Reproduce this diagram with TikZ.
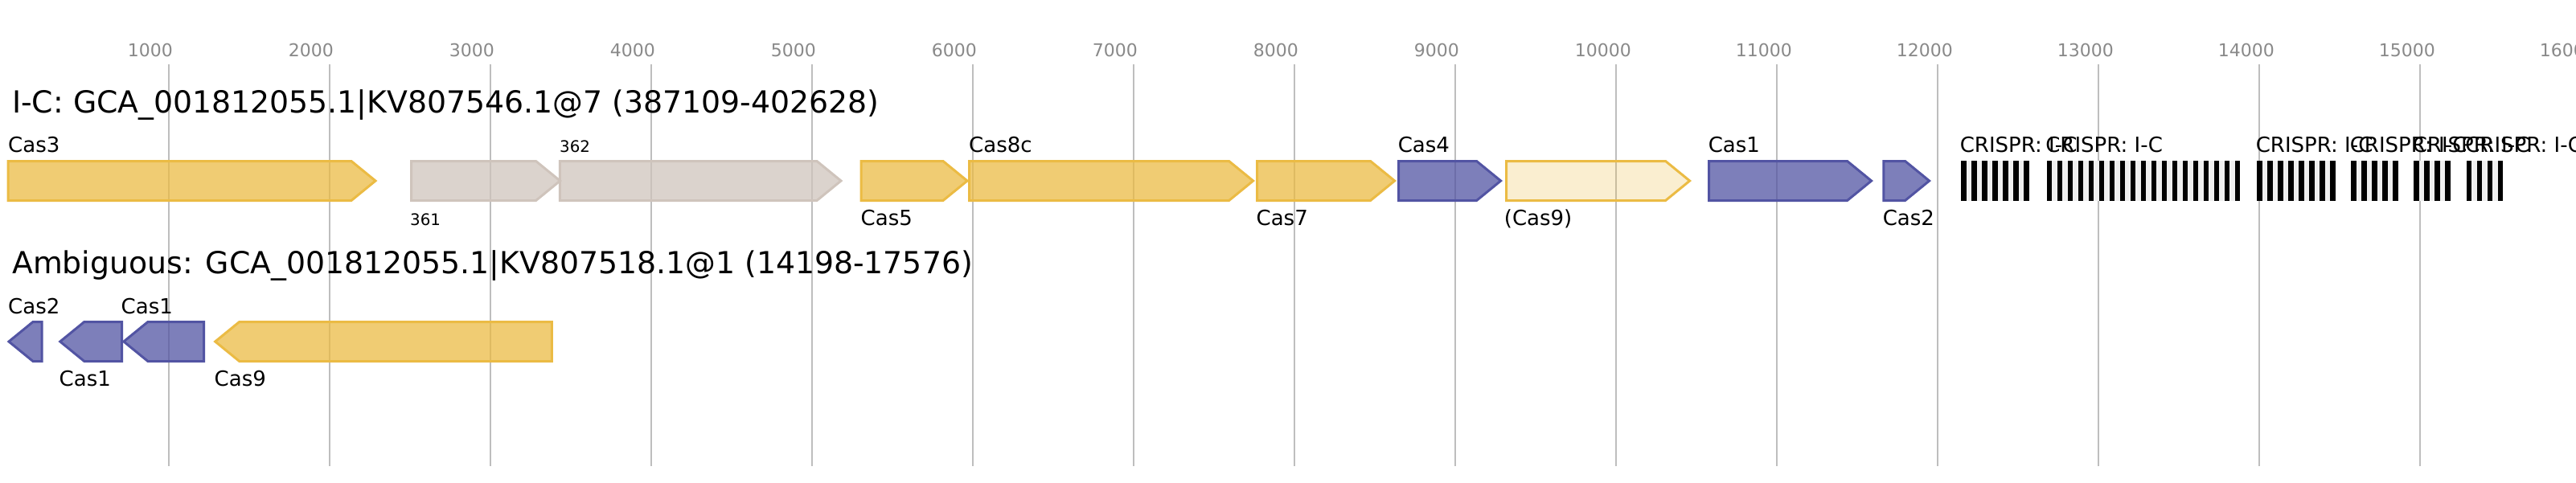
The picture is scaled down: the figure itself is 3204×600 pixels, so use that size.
\documentclass[tikz,border=0pt]{standalone}
\usepackage{fontspec}
\setmainfont{DejaVu Sans}

\definecolor{coreorange}{HTML}{EBBB44}
\definecolor{adaptblue}{HTML}{5254A3}
\definecolor{otherbeige}{HTML}{CFC4BC}
\definecolor{gridgray}{HTML}{BEBEBE}
\definecolor{ticktext}{HTML}{898989}
\definecolor{spacergray}{HTML}{EFEFEF}

\newcommand{\headfont}{\fontsize{37.8}{44}\selectfont}
\newcommand{\genefont}{\fontsize{26}{30}\selectfont}
\newcommand{\idfont}{\fontsize{19.8}{23}\selectfont}
\newcommand{\axisfont}{\fontsize{22}{26}\selectfont}

% gene arrow: style, left end, right end, middle of the row
\newcommand{\fwdgene}[4]{\draw[#1] (#2,#4-24.5) -- (#3-30,#4-24.5) -- (#3,#4) -- (#3-30,#4+24.5) -- (#2,#4+24.5) -- cycle;}
\newcommand{\revgene}[4]{\draw[#1] (#3,#4-24.5) -- (#2+30,#4-24.5) -- (#2,#4) -- (#2+30,#4+24.5) -- (#3,#4+24.5) -- cycle;}

\begin{document}
\begin{tikzpicture}
[x=1pt,y=-1pt,line join=miter,
gridline/.style={draw=gridgray,line width=1.6pt},
axis label/.style={font=\axisfont,text=ticktext,inner sep=0pt,anchor=base west},
locus title/.style={font=\headfont,inner sep=0pt,anchor=base west},
gene label/.style={font=\genefont,inner sep=0pt,anchor=base west},
id label/.style={font=\idfont,inner sep=0pt,anchor=base west},
core/.style={draw=coreorange,fill=coreorange,fill opacity=0.75,line width=3pt},
weak core/.style={core,fill opacity=0.25},
adapt/.style={draw=adaptblue,fill=adaptblue,fill opacity=0.75,line width=3pt},
other/.style={draw=otherbeige,fill=otherbeige,fill opacity=0.75,line width=3pt},
spacer/.style={fill=spacergray},
crispr repeat/.style={fill=black}]
\useasboundingbox (0,0) rectangle (3204,600);
\foreach \k in {1,...,15}
  \draw[gridline] (9.7+200*\k,80) -- (9.7+200*\k,580);
\foreach \k in {1,...,16}
  \node[axis label] (tick\k) at (-41.3+200*\k,70) {\k000};
\node[locus title] (locusA) at (15,140) {I-C: GCA\_001812055.1|KV807546.1@7 (387109-402628)};
\node[locus title] (locusB) at (15,340) {Ambiguous: GCA\_001812055.1|KV807518.1@1 (14198-17576)};
\fwdgene{core}{10}{467}{225}
\fwdgene{other}{511.7}{696.6}{225}
\fwdgene{other}{696.4}{1046}{225}
\fwdgene{core}{1071}{1203}{225}
\fwdgene{core}{1205.5}{1558.6}{225}
\fwdgene{core}{1563.5}{1734.6}{225}
\fwdgene{adapt}{1739.5}{1866.6}{225}
\fwdgene{weak core}{1873.5}{2101.6}{225}
\fwdgene{adapt}{2125.5}{2327.6}{225}
\fwdgene{adapt}{2342.8}{2399.6}{225}
\revgene{adapt}{11}{52}{425}
\revgene{adapt}{74.8}{151.5}{425}
\revgene{adapt}{153.9}{253.5}{425}
\revgene{core}{267.7}{686.3}{425}
\node[gene label] (cas3) at (10,189) {Cas3};
\node[id label] (g361) at (510,280) {361};
\node[id label] (g362) at (696,189) {362};
\node[gene label] (cas5) at (1070.5,280) {Cas5};
\node[gene label] (cas8c) at (1205,189) {Cas8c};
\node[gene label] (cas7) at (1562.4,280) {Cas7};
\node[gene label] (cas4) at (1738.6,189) {Cas4};
\node[gene label] (cas9a) at (1870.7,280) {(Cas9)};
\node[gene label] (cas1a) at (2124.6,189) {Cas1};
\node[gene label] (cas2a) at (2341.6,280) {Cas2};
\node[gene label] (cas2b) at (10,390) {Cas2};
\node[gene label] (cas1b) at (73.5,480) {Cas1};
\node[gene label] (cas1c) at (150.5,390) {Cas1};
\node[gene label] (cas9b) at (266.5,480) {Cas9};
\foreach \ax/\an [count=\i] in {2439/7,2545.5/19,2807/8,2924/5,3002/4,3067.5/4}{
  \fill[spacer] (\ax,200) rectangle (\ax+13*\an-6.5,249.5);
  \foreach \k in {1,...,\an}
    \fill[crispr repeat] (\ax+13*\k-13,200) rectangle +(6.5,49.5);
  \node[gene label] (crispr\i) at (\ax-1.4,189) {CRISPR: I-C};
}
\end{tikzpicture}
\end{document}
